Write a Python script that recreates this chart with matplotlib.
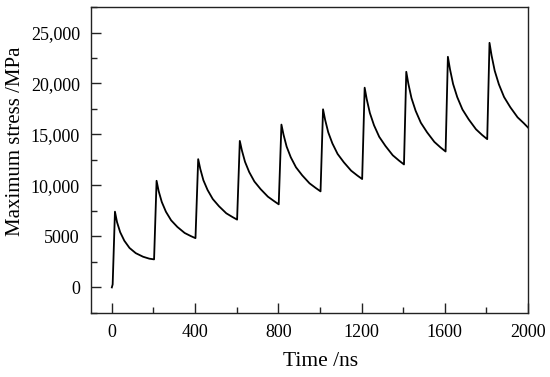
import matplotlib
matplotlib.use('Agg')
import matplotlib.pyplot as plt
from matplotlib.ticker import MultipleLocator, FuncFormatter

# Stress history (ns, MPa)
time_ns = [0, 4,
           15, 25, 40, 60, 85, 115, 150, 180, 203,
           215, 225, 240, 260, 285, 315, 350, 380, 402,
           415, 425, 440, 460, 485, 515, 550, 580, 602,
           615, 625, 640, 660, 685, 715, 750, 780, 802,
           815, 825, 840, 860, 885, 915, 950, 980, 1003,
           1015, 1025, 1040, 1060, 1085, 1115, 1150, 1180, 1203,
           1215, 1225, 1240, 1260, 1285, 1315, 1350, 1380, 1404,
           1415, 1425, 1440, 1460, 1485, 1515, 1550, 1580, 1604,
           1615, 1625, 1640, 1660, 1685, 1715, 1750, 1780, 1804,
           1815, 1825, 1840, 1860, 1885, 1915, 1950, 1980, 2000]
stress_mpa = [0, 300,
              7430, 6400, 5420, 4580, 3870, 3360, 3010, 2820, 2750,
              10460, 9450, 8380, 7420, 6580, 5930, 5340, 5030, 4830,
              12580, 11630, 10510, 9560, 8670, 7960, 7270, 6900, 6650,
              14370, 13440, 12320, 11320, 10390, 9640, 8900, 8460, 8150,
              15970, 14990, 13810, 12760, 11780, 10990, 10210, 9750, 9420,
              17470, 16440, 15210, 14120, 13090, 12270, 11450, 10970, 10630,
              19590, 18460, 17110, 15900, 14770, 13870, 12960, 12440, 12060,
              21150, 19980, 18570, 17320, 16150, 15210, 14270, 13720, 13330,
              22620, 21410, 19950, 18660, 17450, 16480, 15510, 14940, 14540,
              23990, 22740, 21250, 19920, 18670, 17670, 16680, 16100, 15680]

plt.rcParams['font.family'] = 'Liberation Serif'

fig = plt.figure(figsize=(5.5, 3.77), dpi=100)
ax = fig.add_axes([0.1655, 0.17, 0.7945, 0.8114])

ax.plot(time_ns, stress_mpa, color='black', linewidth=1.3)

ax.set_xlim(-100, 2000)
ax.set_ylim(-2500, 27500)
ax.xaxis.set_major_locator(MultipleLocator(400))
ax.xaxis.set_minor_locator(MultipleLocator(200))
ax.yaxis.set_major_locator(MultipleLocator(5000))
ax.yaxis.set_minor_locator(MultipleLocator(2500))


def fmt(v, pos):
    if abs(v) >= 10000:
        return f'{int(v):,}'
    return f'{int(v)}'


ax.yaxis.set_major_formatter(FuncFormatter(fmt))
ax.tick_params(which='both', direction='in', top=False, right=False,
               labelsize=13, width=1, color='#222222')
ax.tick_params(which='major', length=7, pad=8)
ax.tick_params(which='minor', length=4)
for s in ax.spines.values():
    s.set_linewidth(1)
    s.set_color('#222222')

ax.set_xlabel('Time /ns', fontsize=15.5)
ax.set_ylabel('Maximum stress /MPa', fontsize=15)
ax.xaxis.set_label_coords(0.526, -0.127)
ax.yaxis.set_label_coords(-0.152, 0.56)

fig.savefig('out.png', dpi=100)
